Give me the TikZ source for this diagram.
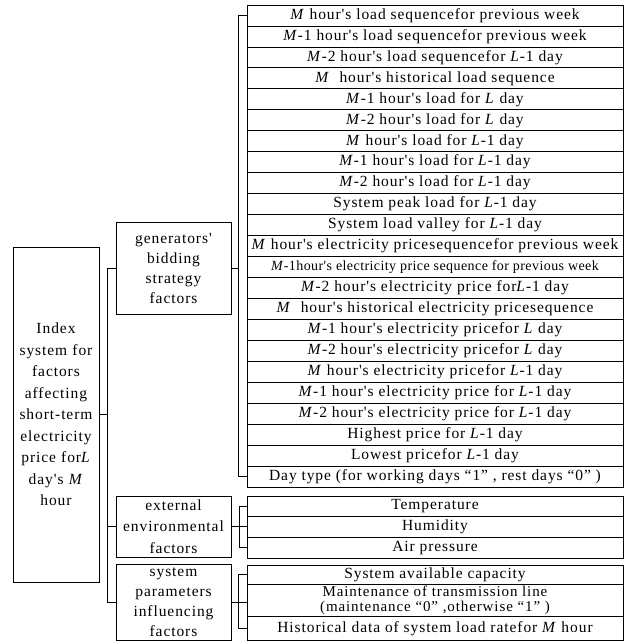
\documentclass[tikz,border=0pt]{standalone}
\usepackage{fontspec}
\setmainfont{Liberation Serif}[LetterSpace=6,Ligatures=TeXOff]
\usetikzlibrary{positioning}

\newcommand{\hM}{\textit{M}}
\newcommand{\dL}{\textit{L}}

\begin{document}
\begin{tikzpicture}[x=1pt,y=-1pt,line width=0.8pt,
    every node/.style={font=\fontsize{15.5}{20}\selectfont},
    box/.style={draw,align=center,minimum width=115pt,inner sep=0pt,outer sep=0pt},
    leaf/.style={draw,minimum width=376pt,minimum height=20.96pt,inner sep=0pt,outer sep=0pt}]
  \useasboundingbox (0,0) rectangle (626,641);

  \node[box,minimum width=86pt,minimum height=335pt,text width=84pt,
        font=\fontsize{15.5}{21.5}\selectfont] (root) at (56,414.5)
        {Index\\system for\\factors\\affecting\\short-term\\electricity\\price for\dL\\day's \hM\\hour};

  \node[box,minimum height=92pt] (gen) at (173.5,268) {generators'\\bidding\\strategy\\factors};
  \node[box,minimum height=61pt,font=\fontsize{15.5}{21.5}\selectfont] (env) at (173.5,526.5) {external\\environmental\\factors};
  \node[box,minimum height=76pt] (sys) at (173.5,602) {system\\parameters\\influencing\\factors};

  \node[leaf,anchor=north] (g1) at (435,5) {\hM{} hour's load sequencefor previous week};
  \node[leaf,below=0pt of g1] (g2) {\hM-1 hour's load sequencefor previous week};
  \node[leaf,below=0pt of g2] (g3) {\hM-2 hour's load sequencefor \dL-1 day};
  \node[leaf,below=0pt of g3] (g4) {\hM\ \ hour's historical load sequence};
  \node[leaf,below=0pt of g4] (g5) {\hM-1 hour's load for \dL{} day};
  \node[leaf,below=0pt of g5] (g6) {\hM-2 hour's load for \dL{} day};
  \node[leaf,below=0pt of g6] (g7) {\hM{} hour's load for \dL-1 day};
  \node[leaf,below=0pt of g7] (g8) {\hM-1 hour's load for \dL-1 day};
  \node[leaf,below=0pt of g8] (g9) {\hM-2 hour's load for \dL-1 day};
  \node[leaf,below=0pt of g9] (g10) {System peak load for \dL-1 day};
  \node[leaf,below=0pt of g10] (g11) {System load valley for \dL-1 day};
  \node[leaf,below=0pt of g11] (g12) {\hM{} hour's electricity pricesequencefor previous week};
  \node[leaf,below=0pt of g12,font=\fontsize{14}{14}\selectfont\addfontfeatures{LetterSpace=3}] (g13)
        {\hM-1hour's electricity price sequence for previous week};
  \node[leaf,below=0pt of g13] (g14) {\hM-2 hour's electricity price for\dL-1 day};
  \node[leaf,below=0pt of g14] (g15) {\hM\ \ hour's historical electricity pricesequence};
  \node[leaf,below=0pt of g15] (g16) {\hM-1 hour's electricity pricefor \dL{} day};
  \node[leaf,below=0pt of g16] (g17) {\hM-2 hour's electricity pricefor \dL{} day};
  \node[leaf,below=0pt of g17] (g18) {\hM{} hour's electricity pricefor \dL-1 day};
  \node[leaf,below=0pt of g18] (g19) {\hM-1 hour's electricity price for \dL-1 day};
  \node[leaf,below=0pt of g19] (g20) {\hM-2 hour's electricity price for \dL-1 day};
  \node[leaf,below=0pt of g20] (g21) {Highest price for \dL-1 day};
  \node[leaf,below=0pt of g21] (g22) {Lowest pricefor \dL-1 day};
  \node[leaf,below=0pt of g22] (g23) {Day type (for working days “1” , rest days “0” )};

  \node[leaf,anchor=north,minimum height=20.7pt] (e1) at (435,496) {Temperature};
  \node[leaf,below=0pt of e1,minimum height=20.7pt] (e2) {Humidity};
  \node[leaf,below=0pt of e2,minimum height=20.7pt] (e3) {Air pressure};

  \node[leaf,anchor=north,minimum height=19.5pt] (s1) at (435,565) {System available capacity};
  \node[leaf,below=0pt of s1,minimum height=32pt,align=center,font=\fontsize{15}{15}\selectfont] (s2)
        {Maintenance of transmission line\\(maintenance “0” ,otherwise “1” )};
  \node[leaf,below=0pt of s2,minimum height=23.5pt] (s3) {Historical data of system load ratefor \hM{} hour};

  \draw (root.east) -- ++(8,0);
  \draw (gen.west) -- ++(-9,0) |- (sys.west);
  \draw (env.west) -- ++(-9,0);
  \draw (gen.east) -- ++(7,0);
  \draw (g1.west) -- ++(-9,0) |- (g23.west);
  \draw (env.east) -- (env.east -| e2.west);
  \draw (e1.west) -- ++(-8,0) |- (e3.west);
  \draw (sys.east) -- (sys.east -| s2.west);
  \draw (s1.west) -- ++(-9,0) |- (s3.west);
\end{tikzpicture}
\end{document}
